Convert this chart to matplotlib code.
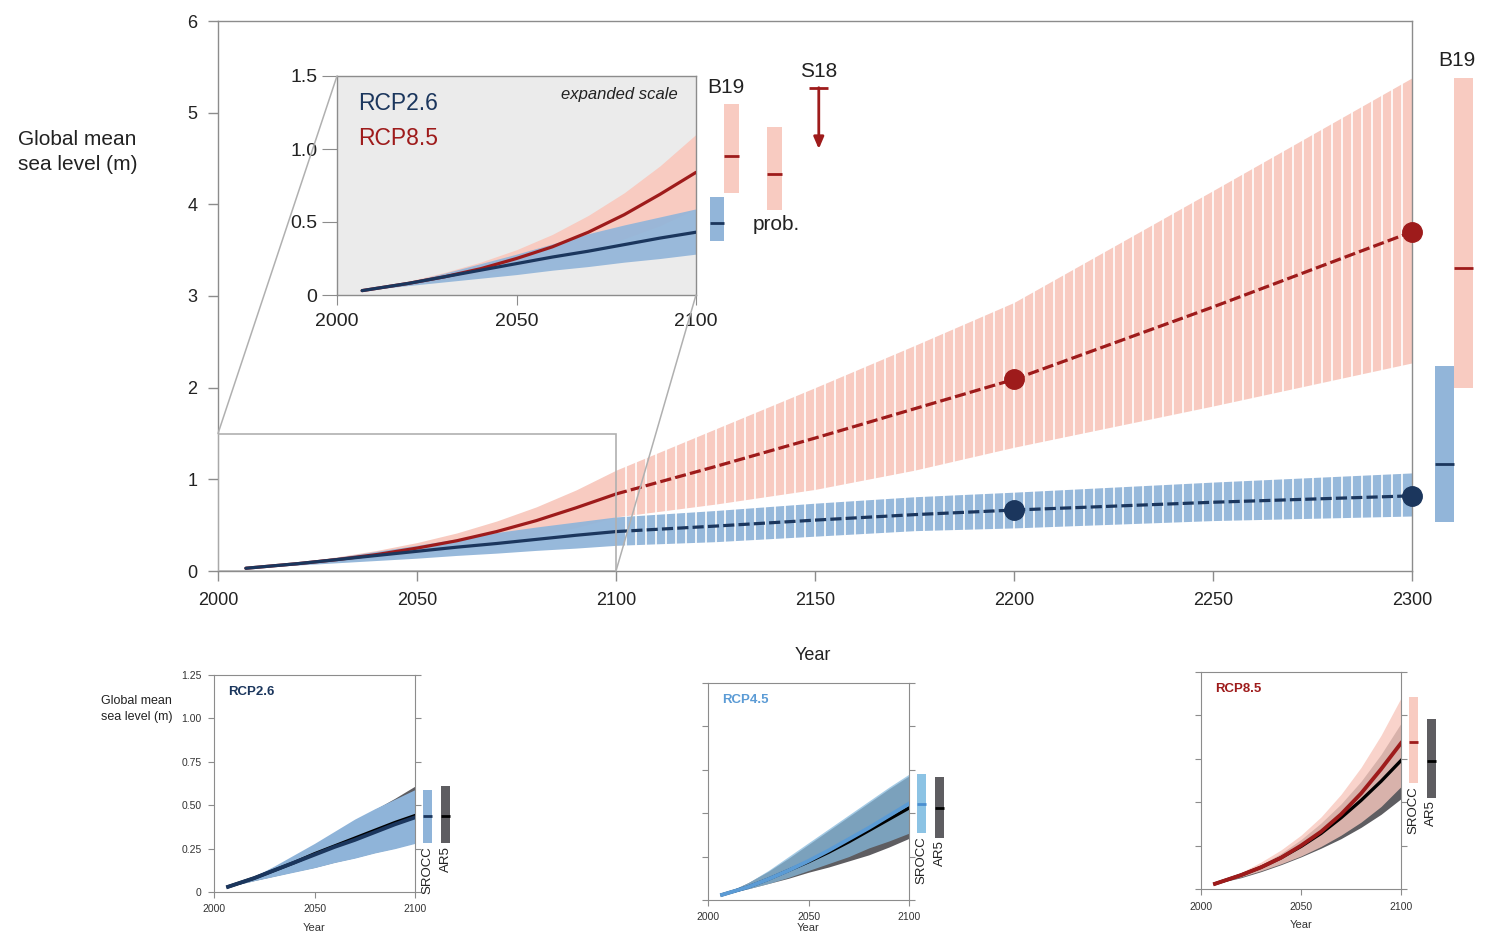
import numpy as np
import matplotlib
matplotlib.use('Agg')
import matplotlib.pyplot as plt
from matplotlib.patches import Rectangle, ConnectionPatch

plt.rcParams['font.family'] = ['Liberation Sans', 'DejaVu Sans']

# ---- data ----
yrs_21 = [2007, 2020, 2030, 2040, 2050, 2060, 2070, 2080, 2090, 2100]
yrs_post = [2100, 2125, 2150, 2175, 2200, 2250, 2300]

rcp85_med = [0.03, 0.08, 0.125, 0.18, 0.25, 0.33, 0.43, 0.55, 0.69, 0.84]
rcp85_hi = [0.03, 0.095, 0.155, 0.225, 0.31, 0.415, 0.545, 0.70, 0.885, 1.10]
rcp85_lo = [0.03, 0.07, 0.105, 0.145, 0.19, 0.245, 0.31, 0.385, 0.475, 0.59]
rcp26_med = [0.03, 0.08, 0.125, 0.17, 0.215, 0.26, 0.30, 0.345, 0.39, 0.43]
rcp26_hi = [0.03, 0.09, 0.15, 0.215, 0.28, 0.35, 0.42, 0.48, 0.535, 0.59]
rcp26_lo = [0.03, 0.065, 0.09, 0.115, 0.14, 0.17, 0.195, 0.225, 0.25, 0.28]

rcp85_med_post = [0.84, 1.14, 1.45, 1.77, 2.09, 2.88, 3.70]
rcp85_hi_post = [1.10, 1.55, 2.00, 2.46, 2.93, 4.15, 5.38]
rcp85_lo_post = [0.60, 0.73, 0.89, 1.10, 1.35, 1.80, 2.27]
rcp26_med_post = [0.43, 0.49, 0.555, 0.615, 0.665, 0.75, 0.82]
rcp26_hi_post = [0.59, 0.66, 0.74, 0.81, 0.86, 0.97, 1.07]
rcp26_lo_post = [0.28, 0.32, 0.38, 0.44, 0.47, 0.55, 0.60]

dot_years = [2200, 2300]
dot_85 = [2.09, 3.70]
dot_26 = [0.665, 0.82]

# B19 at 2300 (lo, med, hi)
b19_2300_26 = [0.535, 1.17, 2.24]
b19_2300_85 = [2.00, 3.31, 5.38]
# inset 2100 comparisons (lo, med, hi)
b19_2100_26 = [0.37, 0.495, 0.67]
b19_2100_85 = [0.70, 0.95, 1.31]
prob_2100_85 = [0.58, 0.83, 1.15]
s18_top, s18_tip = 1.42, 1.0

# AR5 / SROCC ranges for the small panels
ar5_26_med = [0.03, 0.08, 0.125, 0.17, 0.22, 0.265, 0.31, 0.355, 0.40, 0.44]
ar5_26_hi = [0.03, 0.085, 0.14, 0.20, 0.265, 0.33, 0.40, 0.475, 0.54, 0.61]
ar5_26_lo = [0.03, 0.066, 0.092, 0.118, 0.142, 0.172, 0.198, 0.228, 0.254, 0.285]

srocc_45_med = [0.03, 0.075, 0.12, 0.17, 0.225, 0.285, 0.35, 0.415, 0.485, 0.555]
srocc_45_hi = [0.03, 0.10, 0.17, 0.25, 0.33, 0.41, 0.49, 0.57, 0.65, 0.725]
srocc_45_lo = [0.03, 0.065, 0.095, 0.13, 0.17, 0.21, 0.25, 0.30, 0.34, 0.385]
ar5_45_med = [0.03, 0.075, 0.12, 0.17, 0.22, 0.275, 0.335, 0.40, 0.465, 0.53]
ar5_45_hi = [0.03, 0.10, 0.165, 0.24, 0.32, 0.40, 0.48, 0.56, 0.64, 0.715]
ar5_45_lo = [0.03, 0.065, 0.095, 0.125, 0.16, 0.19, 0.225, 0.26, 0.305, 0.355]

ar5_85_med = [0.03, 0.08, 0.125, 0.18, 0.245, 0.32, 0.41, 0.51, 0.62, 0.74]
ar5_85_hi = [0.03, 0.085, 0.14, 0.205, 0.285, 0.38, 0.49, 0.62, 0.775, 0.955]
ar5_85_lo = [0.03, 0.065, 0.10, 0.14, 0.185, 0.235, 0.29, 0.355, 0.43, 0.52]

# bars at 2100 in small panels (lo, med, hi)
srocc_bar_26 = [0.28, 0.44, 0.59]
ar5_bar_26 = [0.28, 0.44, 0.61]
srocc_bar_45 = [0.385, 0.554, 0.725]
ar5_bar_45 = [0.36, 0.53, 0.71]
srocc_bar_85 = [0.608, 0.848, 1.108]
ar5_bar_85 = [0.527, 0.738, 0.98]

# ---- colours ----
NAVY = '#1b365d'
RED = '#9e1b1b'
PINK = '#f8cbc1'
BLUE = '#92b5d9'
LBLUE = '#5b9bd5'
GREY_BAND = '#5e5d61'
SPINE = '#8c8c8c'
TXT = '#222222'

W, H = 1499, 933
fig = plt.figure(figsize=(W / 100, H / 100), dpi=100)


def box(x0, y0, x1, y1):
    return [x0 / W, 1 - y1 / H, (x1 - x0) / W, (y1 - y0) / H]


def style_spines(a, color=SPINE, lw=1.0):
    for s in a.spines.values():
        s.set_color(color)
        s.set_linewidth(lw)


# ---- main panel ----
ax = fig.add_axes(box(218, 21, 1412, 571))
yrs_all = yrs_21 + yrs_post[1:]
ax.fill_between(yrs_all, rcp85_lo + rcp85_lo_post[1:], rcp85_hi + rcp85_hi_post[1:],
                color=PINK, lw=0, zorder=1)
ax.fill_between(yrs_all, rcp26_lo + rcp26_lo_post[1:], rcp26_hi + rcp26_hi_post[1:],
                color=BLUE, lw=0, alpha=0.95, zorder=1.1)
# white gaps that make the post-2100 bands look like bars
ax.vlines(np.arange(2102.5, 2300, 2.5), 0, 6, colors='white', lw=1.2, zorder=2.2)

ax.plot(yrs_21, rcp85_med, color=RED, lw=2.3, zorder=3, solid_capstyle='round')
ax.plot(yrs_21, rcp26_med, color=NAVY, lw=2.3, zorder=3.1, solid_capstyle='round')
ax.plot(yrs_post, rcp85_med_post, color=RED, lw=2.3, dashes=(3.5, 1.3), zorder=3)
ax.plot(yrs_post, rcp26_med_post, color=NAVY, lw=2.3, dashes=(3.5, 1.3), zorder=3)
ax.plot(dot_years, dot_85, 'o', color=RED, ms=14, zorder=4, clip_on=False)
ax.plot(dot_years, dot_26, 'o', color=NAVY, ms=14, zorder=4, clip_on=False)

ax.add_patch(Rectangle((2000, 0), 100, 1.5, fill=False, ec='#b0b0b0', lw=1.2, zorder=5))

# B19 bars at 2300
ax.bar(2305.8, b19_2300_26[2] - b19_2300_26[0], bottom=b19_2300_26[0], width=4.7,
       align='edge', color=BLUE, lw=0, clip_on=False)
ax.bar(2310.5, b19_2300_85[2] - b19_2300_85[0], bottom=b19_2300_85[0], width=4.8,
       align='edge', color=PINK, lw=0, clip_on=False)
ax.hlines(b19_2300_26[1], 2305.8, 2310.5, colors=NAVY, lw=2, clip_on=False)
ax.hlines(b19_2300_85[1], 2310.5, 2315.3, colors=RED, lw=2, clip_on=False)
ax.text(2311.3, 5.57, 'B19', fontsize=15, ha='center', va='center', color=TXT)

ax.set_xlim(2000, 2300)
ax.set_ylim(0, 6)
ax.set_xticks(range(2000, 2301, 50))
ax.set_yticks(range(0, 7))
ax.tick_params(direction='out', length=7, width=1, color=SPINE, pad=8,
               labelsize=13, labelcolor=TXT)
style_spines(ax)

fig.text(813 / W, 1 - 655 / H, 'Year', fontsize=13, ha='center', va='center', color=TXT)
fig.text(78 / W, 1 - 152 / H, 'Global mean\nsea level (m)', fontsize=15, ha='center',
         va='center', linespacing=1.45, multialignment='left', color=TXT)

# ---- inset (expanded scale) ----
axin = fig.add_axes(box(337, 76, 696, 295))
axin.set_facecolor('#ebebeb')
axin.fill_between(yrs_21, rcp85_lo, rcp85_hi, color=PINK, lw=0, zorder=1)
axin.fill_between(yrs_21, rcp26_lo, rcp26_hi, color=BLUE, lw=0, alpha=0.92, zorder=1.1)
axin.plot(yrs_21, rcp85_med, color=RED, lw=2.3, zorder=3, solid_capstyle='round')
axin.plot(yrs_21, rcp26_med, color=NAVY, lw=2.3, zorder=3.1, solid_capstyle='round')

for (lo, med, hi), x0, w, c, mc in [(b19_2100_26, 2103.9, 3.9, BLUE, NAVY),
                                    (b19_2100_85, 2107.8, 4.2, PINK, RED),
                                    (prob_2100_85, 2119.8, 4.2, PINK, RED)]:
    axin.bar(x0, hi - lo, bottom=lo, width=w, align='edge', color=c, lw=0, clip_on=False)
    axin.hlines(med, x0, x0 + w, colors=mc, lw=2, clip_on=False)

axin.annotate('', xy=(2134.2, s18_tip), xytext=(2134.2, s18_top),
              arrowprops=dict(arrowstyle='-|>,head_width=0.3,head_length=0.7',
                              color=RED, lw=2, shrinkA=0, shrinkB=0),
              annotation_clip=False)
axin.hlines(s18_top, 2131.6, 2136.9, colors=RED, lw=2, clip_on=False)

axin.text(2005.8, 1.31, 'RCP2.6', color=NAVY, fontsize=16.5, va='center')
axin.text(2005.8, 1.07, 'RCP8.5', color=RED, fontsize=16.5, va='center')
axin.text(2095, 1.375, 'expanded scale', fontsize=12, style='italic', ha='right',
          va='center', color=TXT)
axin.text(2108.4, 1.42, 'B19', fontsize=15, ha='center', va='center', color=TXT)
axin.text(2134.3, 1.53, 'S18', fontsize=15, ha='center', va='center', color=TXT)
axin.text(2115.9, 0.48, 'prob.', fontsize=15, ha='left', va='center', color=TXT)

axin.set_xlim(2000, 2100)
axin.set_ylim(0, 1.5)
axin.set_xticks([2000, 2050, 2100])
axin.set_yticks([0, 0.5, 1.0, 1.5])
axin.set_yticklabels(['0', '0.5', '1.0', '1.5'])
axin.tick_params(axis='x', direction='out', length=7, color=SPINE, pad=6,
                 labelsize=14, labelcolor=TXT)
axin.tick_params(axis='y', direction='out', length=11, color=SPINE, pad=3,
                 labelsize=14, labelcolor=TXT)
style_spines(axin)

for xy in [(2000, 1.5), (2100, 0)]:
    con = ConnectionPatch(xyA=xy, coordsA=ax.transData, xyB=xy, coordsB=axin.transData,
                          color='#b0b0b0', lw=1.1)
    fig.add_artist(con)


# ---- small panels ----
def small_panel(rect, label, lcolor, s_lo, s_med, s_hi, s_col, s_alpha, s_mcol,
                a_lo, a_med, a_hi, s_bar, a_bar, s_bar_col, s_bar_mcol, ylabels,
                xlabelpad=6):
    a = fig.add_axes(box(*rect))
    a.fill_between(yrs_21, a_lo, a_hi, color=GREY_BAND, lw=0, zorder=1)
    a.fill_between(yrs_21, s_lo, s_hi, color=s_col, alpha=s_alpha, lw=0, zorder=1.1)
    a.plot(yrs_21, a_med, color='black', lw=2.4, zorder=3)
    a.plot(yrs_21, s_med, color=s_mcol, lw=2.8, zorder=3.1)

    lo, med, hi = s_bar
    a.bar(2104, hi - lo, bottom=lo, width=4.6, align='edge', color=s_bar_col, lw=0, clip_on=False)
    a.hlines(med, 2104, 2108.6, colors=s_bar_mcol, lw=2, clip_on=False)
    a.text(2106.3, lo - 0.015, 'SROCC', rotation=90, ha='center', va='top', fontsize=9.5,
           color=TXT)
    lo, med, hi = a_bar
    a.bar(2112.8, hi - lo, bottom=lo, width=4.8, align='edge', color=GREY_BAND, lw=0,
          clip_on=False)
    a.hlines(med, 2112.8, 2117.6, colors='black', lw=2, clip_on=False)
    a.text(2115.2, lo - 0.015, 'AR5', rotation=90, ha='center', va='top', fontsize=9.5,
           color=TXT)

    a.text(0.07, 0.92, label, transform=a.transAxes, color=lcolor, fontsize=9.5,
           fontweight='bold', va='center')
    a.set_xlim(2000, 2100)
    a.set_ylim(0, 1.25)
    a.set_xticks([2000, 2050, 2100])
    a.set_yticks([0, 0.25, 0.5, 0.75, 1.0, 1.25])
    if ylabels:
        a.set_yticklabels(['0', '0.25', '0.50', '0.75', '1.00', '1.25'])
    else:
        a.set_yticklabels([])
    a.tick_params(direction='out', length=4, width=0.8, color=SPINE, pad=5,
                  labelsize=7.5, labelcolor='#333333', right=True)
    a.set_xlabel('Year', fontsize=8, labelpad=xlabelpad, color='#333333')
    style_spines(a, lw=0.8)
    return a


p1 = small_panel((214, 675, 415, 892), 'RCP2.6', NAVY, rcp26_lo, rcp26_med, rcp26_hi,
                 '#8fb4d9', 1.0, NAVY, ar5_26_lo, ar5_26_med, ar5_26_hi,
                 srocc_bar_26, ar5_bar_26, '#8fb4d9', NAVY, True)
fig.text(137 / W, 1 - 709 / H, 'Global mean\nsea level (m)', fontsize=9, ha='center',
         va='center', linespacing=1.4, multialignment='left', color=TXT)

p2 = small_panel((708, 683, 909, 900), 'RCP4.5', LBLUE, srocc_45_lo, srocc_45_med,
                 srocc_45_hi, '#86b9dc', 0.75, LBLUE, ar5_45_lo, ar5_45_med, ar5_45_hi,
                 srocc_bar_45, ar5_bar_45, '#8cc3e4', '#4a8fd0', False, xlabelpad=0.5)

p3 = small_panel((1201, 672, 1401, 889), 'RCP8.5', RED, rcp85_lo, rcp85_med, rcp85_hi,
                 '#f8c8be', 0.8, RED, ar5_85_lo, ar5_85_med, ar5_85_hi,
                 srocc_bar_85, ar5_bar_85, PINK, RED, False)

fig.savefig('out.png', dpi=100)
